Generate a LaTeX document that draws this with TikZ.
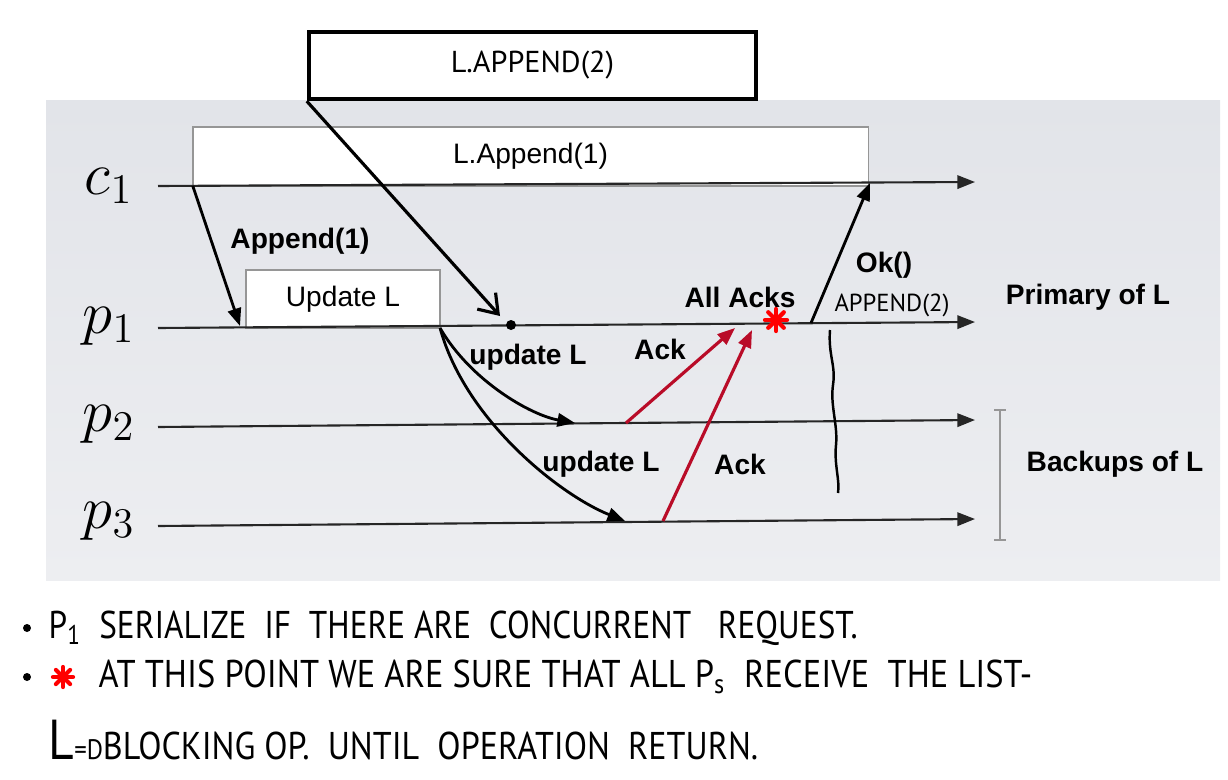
\documentclass[tikz,border=0pt]{standalone}
\usepackage{fontspec}
\newfontfamily\helv{Liberation Sans}
\newfontfamily\hand{PT Sans}
\usetikzlibrary{arrows.meta}
\definecolor{slidetop}{RGB}{226,228,233}
\definecolor{slidebot}{RGB}{237,238,241}
\definecolor{ackred}{RGB}{185,12,40}
\definecolor{boxgray}{RGB}{150,150,150}
\tikzset{redstar/.pic={
	\foreach \a in {0,45,90,135}
		\draw[red,line width=1.2pt,line cap=round] (\a:#1) -- (\a+180:#1);
}}
\begin{document}
\begin{tikzpicture}[x=0.01cm,y=-0.01cm,
	proc/.style={font=\fontsize{18.5}{18}\selectfont,inner sep=0pt},
	tline/.style={draw=black!85,line width=0.6pt,-{Triangle[length=5pt,width=3.8pt]}},
	msg/.style={draw=black,line width=0.8pt,-{Triangle[length=5pt,width=3.8pt]}},
	ack/.style={draw=ackred,line width=0.9pt,-{Triangle[length=5pt,width=3.8pt]}},
	lbl/.style={font=\helv\bfseries\fontsize{8}{9}\selectfont,inner sep=0pt},
	opbox/.style={draw=boxgray,fill=white,line width=0.4pt,outer sep=0pt,font=\helv\fontsize{8}{9}\selectfont},
	hand/.style={font=\hand\fontsize{11}{12}\selectfont,anchor=west,inner sep=0pt}]
	\useasboundingbox (0,0) rectangle (1228,779);
	\shade[top color=slidetop, bottom color=slidebot] (46,101) rectangle (1220,580);
	% process names
	\node (c1) at (109,186)	[proc]	{$c_1$};
	\node (p1) at (109,326)	[proc]	{$p_1$};
	\node (p2) at (109,424)	[proc]	{$p_2$};
	\node (p3) at (109,521)	[proc]	{$p_3$};
	% time lines
	\coordinate (c1s) at (158,186);	\coordinate (c1e) at (975,182);
	\coordinate (p1s) at (158,328);	\coordinate (p1e) at (975,322);
	\coordinate (p2s) at (158,427);	\coordinate (p2e) at (975,420);
	\coordinate (p3s) at (158,526);	\coordinate (p3e) at (975,519);
	\node (call) at (530.5,156.5)	[opbox, minimum width=6.75cm, minimum height=0.59cm]	{L.Append(1)};
	\node (upd) at (343,299)	[opbox, minimum width=1.94cm, minimum height=0.58cm]	{Update L};
	\draw[tline] (c1s) -- (c1e);
	\draw[tline] (p1s) -- (p1e);
	\draw[tline] (p2s) -- (p2e);
	\draw[tline] (p3s) -- (p3e);
	% messages
	\coordinate (inv) at (240,326);
	\coordinate (rx2) at (575,423);
	\coordinate (rx3) at (625,521);
	\coordinate (tx2) at (626,423);
	\coordinate (tx3) at (663,521);
	\coordinate (ack2) at (735,328);
	\coordinate (ack3) at (752,330);
	\coordinate (okp) at (811,323);
	\coordinate (okc) at (870,183);
	\draw[msg] (call.south west) -- (inv);
	\draw[msg] (upd.south east) .. controls (470,380) and (530,415) .. (rx2);
	\draw[msg] (upd.south east) .. controls (465,420) and (560,495) .. (rx3);
	\draw[ack] (tx2) -- (ack2);
	\draw[ack] (tx3) -- (ack3);
	\draw[msg] (okp) -- (okc);
	\node (lapp) at (300,241)	[lbl]	{Append(1)};
	\node (lup2) at (528,357)	[lbl]	{update L};
	\node (lup3) at (601,464)	[lbl]	{update L};
	\node (lack2) at (660,349)	[lbl]	{Ack};
	\node (lack3) at (740,464)	[lbl]	{Ack};
	\node (lall) at (740,297)	[lbl]	{All Acks};
	\node (lok) at (884,265)	[lbl]	{Ok()};
	\node (prim) at (1088,297)	[lbl]	{Primary of L};
	\node (back) at (1115,464)	[lbl]	{Backups of L};
	% backups bracket
	\draw[boxgray,line width=0.5pt] (994,410) -- (1006,410) (1000,410) -- (1000,540) (994,540) -- (1006,540);
	% hand written notes
	\node (req2) at (532.5,65.5)	[draw, line width=1.2pt, fill=white, minimum width=4.47cm, minimum height=0.67cm, font=\hand\fontsize{8.6}{10}\selectfont]	{L.APPEND(2)};
	\node (dot) at (511,325)	[circle, fill, inner sep=0pt, minimum size=0.1cm]	{};
	\draw[line width=0.9pt,-{Straight Barb[length=5pt,width=7pt]}] (req2.south west) -- (500,316);
	\node (app2) at (892,305)	[font=\hand\fontsize{7}{8}\selectfont, inner sep=0pt]	{APPEND(2)};
	\draw[line width=0.7pt] (830,330) .. controls (828,355) and (836,365) .. (833,385) .. controls (830,405) and (838,425) .. (836,445) .. controls (834,465) and (840,480) .. (838,493);
	\pic at (776,320) {redstar=11};
	% notes below
	\node (b1) at (27,628)	[circle, fill, inner sep=0pt, minimum size=0.08cm]	{};
	\node (b2) at (27,677)	[circle, fill, inner sep=0pt, minimum size=0.08cm]	{};
	\pic at (63,677) {redstar=10};
	\node (n1) at (48,628)	[hand]	{\scalebox{0.86}[1]{P\textsubscript{1}\ \ SERIALIZE \ IF \ THERE ARE \ CONCURRENT \ \ REQUEST.}};
	\node (n2) at (98,677)	[hand]	{\scalebox{0.89}[1]{AT THIS POINT WE ARE SURE THAT ALL P\textsubscript{s} \ RECEIVE \ THE LIST-}};
	\node (n3) at (48,740)	[hand]	{\scalebox{0.88}[1]{{\fontsize{16}{16}\selectfont L}{\fontsize{8}{8}\selectfont =D}BLOCKING OP. \ UNTIL \ OPERATION \ RETURN.}};
\end{tikzpicture}
\end{document}
